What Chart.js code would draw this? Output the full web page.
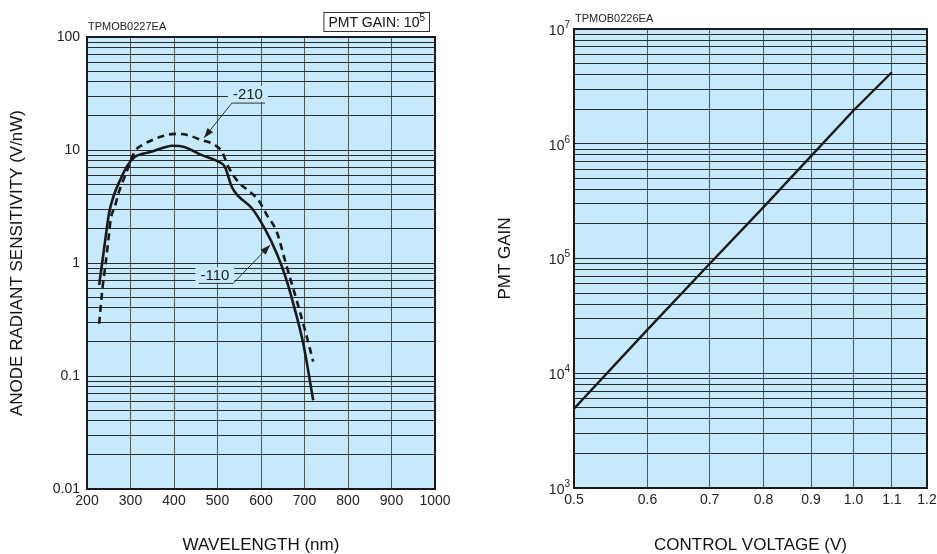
<!DOCTYPE html>
<html>
<head>
<meta charset="utf-8">
<script src="https://cdn.jsdelivr.net/npm/chart.js@4.4.0/dist/chart.umd.min.js"></script>
<style>
  body { margin: 0; background: #fff; width: 937px; height: 554px; overflow: hidden; position: relative; }
  #left { position: absolute; left: 0; top: 0; }
  #right { position: absolute; left: 468px; top: 0; }
</style>
</head>
<body>
<canvas id="left" width="468" height="554"></canvas>
<canvas id="right" width="469" height="554"></canvas>
<script>
// left chart: anode radiant sensitivity vs wavelength, two control voltages
const wavelength110 = [228, 240, 251, 262, 276, 291, 310, 330, 349, 370, 395, 425, 464, 502, 517, 533, 548, 579, 609, 636, 655, 674, 697, 720];
const sensitivity110 = [0.64, 1.4, 2.8, 4.0, 5.4, 7.1, 8.7, 9.3, 9.7, 10.3, 10.9, 10.6, 9.0, 7.9, 7.1, 4.7, 3.9, 3.05, 2.0, 1.22, 0.78, 0.44, 0.195, 0.061];

const wavelength210 = [228, 236, 241, 248, 255, 264, 272, 291, 310, 330, 349, 375, 402, 430, 464, 490, 510, 525, 548, 570, 594, 615, 636, 655, 670, 684, 697, 710, 720];
const sensitivity210 = [0.29, 0.62, 0.87, 1.45, 2.5, 3.15, 4.1, 6.4, 9.7, 11.2, 12.2, 13.3, 13.9, 13.6, 12.2, 11.3, 9.7, 7.1, 5.2, 4.4, 3.6, 2.6, 1.9, 1.06, 0.67, 0.44, 0.29, 0.19, 0.134];

const wavelengthTicks = [200, 300, 400, 500, 600, 700, 800, 900, 1000];
const sensitivityTicks = [0.01, 0.1, 1, 10, 100];

// right chart: PMT gain vs control voltage
const voltage = [0.5, 0.6, 0.7, 0.8, 0.9, 1.0, 1.1];
const gain = [4.9e3, 2.4e4, 9.0e4, 2.8e5, 7.8e5, 1.95e6, 4.2e6];

const voltageTicks = [0.5, 0.6, 0.7, 0.8, 0.9, 1.0, 1.1, 1.2];
const gainTicks = [1e3, 1e4, 1e5, 1e6, 1e7];

const FONT = '"Liberation Sans", Arial, Helvetica, sans-serif';
const BG = '#c6e9fb';
const INK = '#1a1a1a';

// 1..9 per decade, for the log grid
function decadeGrid(decades) {
  const out = [];
  for (let i = 0; i < decades.length - 1; i++) {
    for (let k = 1; k < 10; k++) out.push(decades[i] * k);
  }
  out.push(decades[decades.length - 1]);
  return out;
}

function isDecade(v, list) {
  return list.findIndex(t => Math.abs(t - v) / t < 1e-6);
}

// curve labels (data coords)
const notes = [
  { text: '-210', at: [570, 31.3], under: [533, 609, 26], from: [533, 26], tip: [469, 12.8] },
  { text: '-110', at: [494, 0.78], under: [457, 536, 0.66], from: [536, 0.66], tip: [621, 1.44] }
];

const framePlugin = {
  id: 'frame',
  beforeDraw(chart) {
    const { ctx, chartArea: a } = chart;
    ctx.save();
    ctx.fillStyle = BG;
    ctx.fillRect(a.left, a.top, a.width, a.height);
    ctx.restore();
  },
  afterDraw(chart) {
    const { ctx, chartArea: a } = chart;
    ctx.save();
    ctx.strokeStyle = INK;
    ctx.lineWidth = 2;
    ctx.strokeRect(a.left, a.top, a.width, a.height);
    ctx.fillStyle = '#222';
    ctx.font = '11px ' + FONT;
    ctx.textBaseline = 'middle';
    ctx.textAlign = 'left';
    ctx.fillText(chart.options.plugins.frame.code, a.left + 1, a.top - 10);
    ctx.restore();
  }
};

function arrow(ctx, x0, y0, x1, y1) {
  ctx.beginPath();
  ctx.moveTo(x0, y0);
  ctx.lineTo(x1, y1);
  ctx.stroke();
  const ang = Math.atan2(y1 - y0, x1 - x0);
  const len = 10, w = 3.5;
  ctx.beginPath();
  ctx.moveTo(x1, y1);
  ctx.lineTo(x1 - len * Math.cos(ang) + w * Math.sin(ang), y1 - len * Math.sin(ang) - w * Math.cos(ang));
  ctx.lineTo(x1 - len * Math.cos(ang) - w * Math.sin(ang), y1 - len * Math.sin(ang) + w * Math.cos(ang));
  ctx.closePath();
  ctx.fill();
}

const notePlugin = {
  id: 'notes',
  beforeDatasetsDraw(chart) {
    const { ctx, scales: { x, y } } = chart;
    ctx.save();
    ctx.font = '15px ' + FONT;
    ctx.textAlign = 'center';
    ctx.textBaseline = 'middle';
    notes.forEach(n => {
      const tx = x.getPixelForValue(n.at[0]);
      const ty = y.getPixelForValue(n.at[1]);
      const tw = ctx.measureText(n.text).width;
      ctx.fillStyle = BG;
      ctx.fillRect(tx - tw / 2 - 5, ty - 8, tw + 10, 16);
      ctx.fillStyle = '#222';
      ctx.fillText(n.text, tx, ty + 1);
      ctx.strokeStyle = '#333';
      ctx.fillStyle = '#222';
      ctx.lineWidth = 1;
      const uy = y.getPixelForValue(n.under[2]);
      ctx.beginPath();
      ctx.moveTo(x.getPixelForValue(n.under[0]), uy);
      ctx.lineTo(x.getPixelForValue(n.under[1]), uy);
      ctx.stroke();
      arrow(ctx, x.getPixelForValue(n.from[0]), y.getPixelForValue(n.from[1]),
        x.getPixelForValue(n.tip[0]), y.getPixelForValue(n.tip[1]));
    });
    ctx.restore();
  },
  afterDraw(chart) {
    // PMT GAIN box above the plot
    const { ctx, chartArea: a } = chart;
    ctx.save();
    ctx.textBaseline = 'middle';
    ctx.textAlign = 'left';
    ctx.font = '14px ' + FONT;
    const w1 = ctx.measureText('PMT GAIN: 10').width;
    ctx.font = '10px ' + FONT;
    const w2 = ctx.measureText('5').width;
    const right = a.right - 5, bottom = a.top - 5;
    const left = right - (w1 + w2 + 10);
    ctx.fillStyle = '#fff';
    ctx.fillRect(left, bottom - 20, right - left, 20);
    ctx.strokeStyle = '#333';
    ctx.lineWidth = 1;
    ctx.strokeRect(left + 0.5, bottom - 19.5, right - left - 1, 19);
    ctx.fillStyle = '#111';
    ctx.font = '14px ' + FONT;
    ctx.fillText('PMT GAIN: 10', left + 5, bottom - 9);
    ctx.font = '10px ' + FONT;
    ctx.fillText('5', left + 5 + w1, bottom - 14);
    ctx.restore();
  }
};

const powerLabels = {
  id: 'powerLabels',
  afterDraw(chart) {
    const { ctx, chartArea: a, scales: { y } } = chart;
    ctx.save();
    ctx.fillStyle = '#222';
    ctx.textAlign = 'right';
    ctx.textBaseline = 'middle';
    gainTicks.forEach(v => {
      const py = y.getPixelForValue(v);
      const exp = String(Math.round(Math.log10(v)));
      const xr = a.left - 4;
      ctx.font = '10px ' + FONT;
      const ew = ctx.measureText(exp).width;
      ctx.fillText(exp, xr, py - 4);
      ctx.font = '14px ' + FONT;
      ctx.fillText('10', xr - ew, py + 2);
    });
    ctx.restore();
  }
};

const tickFont = { family: FONT, size: 14 };
const titleFont = { family: FONT, size: 17, lineHeight: 1 };

new Chart(document.getElementById('left'), {
  type: 'line',
  data: {
    datasets: [
      {
        label: '-110',
        data: wavelength110.map((w, i) => ({ x: w, y: sensitivity110[i] })),
        borderColor: INK,
        borderWidth: 2.6,
        pointRadius: 0,
        cubicInterpolationMode: 'monotone'
      },
      {
        label: '-210',
        data: wavelength210.map((w, i) => ({ x: w, y: sensitivity210[i] })),
        borderColor: INK,
        borderWidth: 2.6,
        borderDash: [7, 5],
        pointRadius: 0,
        cubicInterpolationMode: 'monotone'
      }
    ]
  },
  options: {
    responsive: false,
    animation: false,
    layout: { padding: { left: 0, top: 37, right: 33, bottom: 0 } },
    plugins: {
      legend: { display: false },
      tooltip: { enabled: false },
      frame: { code: 'TPMOB0227EA' }
    },
    scales: {
      x: {
        type: 'linear',
        min: 200,
        max: 1000,
        afterBuildTicks(s) { s.ticks = wavelengthTicks.map(v => ({ value: v })); },
        afterFit(s) { s.height = 65; s.paddingLeft = 0; s.paddingRight = 0; },
        grid: { color: '#555', lineWidth: 1, drawTicks: false },
        border: { display: false },
        ticks: { color: '#222', font: tickFont, padding: 4, maxRotation: 0, autoSkip: false, callback: v => String(v) },
        title: { display: true, text: 'WAVELENGTH (nm)', color: '#111', font: titleFont, padding: { top: 0, bottom: 0 } }
      },
      y: {
        type: 'logarithmic',
        min: 0.01,
        max: 100,
        afterBuildTicks(s) { s.ticks = decadeGrid(sensitivityTicks).map(v => ({ value: v })); },
        afterFit(s) { s.width = 87; s.paddingTop = 0; s.paddingBottom = 0; },
        grid: { color: '#2a2a2a', lineWidth: 1, drawTicks: false },
        border: { display: false },
        ticks: {
          color: '#222',
          font: tickFont,
          padding: 7,
          autoSkip: false,
          callback(v) {
            const i = isDecade(v, sensitivityTicks);
            return i >= 0 ? String(sensitivityTicks[i]) : '';
          }
        },
        title: { display: true, text: 'ANODE RADIANT SENSITIVITY (V/nW)', color: '#111', font: titleFont, padding: { top: 8.5, bottom: 0 } }
      }
    }
  },
  plugins: [framePlugin, notePlugin]
});

new Chart(document.getElementById('right'), {
  type: 'line',
  data: {
    datasets: [{
      label: 'PMT GAIN',
      data: voltage.map((v, i) => ({ x: v, y: gain[i] })),
      borderColor: INK,
      borderWidth: 2.4,
      pointRadius: 0,
      tension: 0
    }]
  },
  options: {
    responsive: false,
    animation: false,
    layout: { padding: { left: 0, top: 29, right: 10, bottom: 0 } },
    plugins: {
      legend: { display: false },
      tooltip: { enabled: false },
      frame: { code: 'TPMOB0226EA' }
    },
    scales: {
      x: {
        type: 'logarithmic',
        min: 0.5,
        max: 1.2,
        afterBuildTicks(s) { s.ticks = voltageTicks.map(v => ({ value: v })); },
        afterFit(s) { s.height = 66; s.paddingLeft = 0; s.paddingRight = 0; },
        grid: { color: '#555', lineWidth: 1, drawTicks: false },
        border: { display: false },
        ticks: { color: '#222', font: tickFont, padding: 4, maxRotation: 0, autoSkip: false, callback: v => Number(v).toFixed(1) },
        title: { display: true, text: 'CONTROL VOLTAGE (V)', color: '#111', font: titleFont, padding: { top: 0, bottom: 0 } }
      },
      y: {
        type: 'logarithmic',
        min: 1e3,
        max: 1e7,
        afterBuildTicks(s) { s.ticks = decadeGrid(gainTicks).map(v => ({ value: v })); },
        afterFit(s) { s.width = 106; s.paddingTop = 0; s.paddingBottom = 0; },
        grid: { color: '#2a2a2a', lineWidth: 1, drawTicks: false },
        border: { display: false },
        ticks: { autoSkip: false, callback: () => '' },
        title: { display: true, text: 'PMT GAIN', color: '#111', font: titleFont, padding: { top: 28.5, bottom: 0 } }
      }
    }
  },
  plugins: [framePlugin, powerLabels]
});
</script>
</body>
</html>
